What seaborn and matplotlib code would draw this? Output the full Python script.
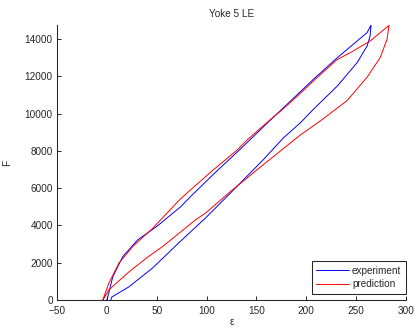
import pandas as pd
import matplotlib
matplotlib.use("Agg")
import matplotlib.pyplot as plt
import seaborn as sns

# === 数据 ===
# experiment：加载段 + 卸载段
exp_eps_up = [4, 5, 22, 46, 72, 99, 124, 157, 177, 194, 207, 231, 251, 261, 264, 265]
exp_F_up = [0, 160, 700, 1720, 3060, 4400, 5740, 7530, 8690, 9500, 10220, 11470, 12730, 13620, 14160, 14750]
exp_eps_down = [261, 251, 231, 207, 184, 164, 134, 107, 84, 74, 50, 31, 16, 6, 1, 0]
exp_F_down = [14340, 13890, 12990, 11830, 10660, 9650, 8100, 6750, 5550, 5000, 3940, 3230, 2330, 1250, 180, 0]

# prediction
pred_eps_up = [-4, 2, 22, 41, 56, 89, 99, 124, 157, 184, 194, 214, 241, 261, 274, 281, 283]
pred_F_up = [0, 540, 1500, 2300, 2870, 4300, 4660, 5820, 7260, 8420, 8850, 9600, 10700, 11950, 12990, 13980, 14730]
pred_eps_down = [264, 244, 231, 207, 191, 174, 164, 141, 131, 107, 84, 73, 54, 46, 26, 12, 2, -4]
pred_F_down = [13890, 13260, 12900, 11740, 10930, 10120, 9680, 8600, 8060, 6990, 5910, 5380, 4300, 3850, 2870, 1970, 900, 0]

x_ticks = [-50, 0, 50, 100, 150, 200, 250, 300]
y_ticks = [0, 2000, 4000, 6000, 8000, 10000, 12000, 14000]

exp_df = pd.DataFrame({"eps": exp_eps_up + exp_eps_down, "F": exp_F_up + exp_F_down})
pred_df = pd.DataFrame({"eps": pred_eps_up + pred_eps_down, "F": pred_F_up + pred_F_down})

sns.set_style("white")
plt.rcParams["font.family"] = ["Liberation Sans", "DejaVu Sans"]

fig = plt.figure(figsize=(4.15, 3.27), dpi=100)
ax = fig.add_axes([0.1373, 0.0826, 0.841, 0.841])

sns.lineplot(data=exp_df, x="eps", y="F", sort=False, estimator=None,
             color="#0000ff", linewidth=0.7, label="experiment", ax=ax)
sns.lineplot(data=pred_df, x="eps", y="F", sort=False, estimator=None,
             color="#ff0000", linewidth=0.7, label="prediction", ax=ax)

ax.set_xlim(-50, 300)
ax.set_ylim(0, max(exp_df["F"].max(), pred_df["F"].max()))
ax.set_xticks(x_ticks)
ax.set_yticks(y_ticks)

ax.spines["top"].set_visible(False)
ax.spines["right"].set_visible(False)
for s in ["left", "bottom"]:
    ax.spines[s].set_color("#262626")
    ax.spines[s].set_linewidth(0.75)
ax.tick_params(direction="in", length=3, width=0.7, labelsize=7.2, pad=3,
               colors="#262626", left=True, bottom=True)
ax.tick_params(axis="x", pad=4)

ax.set_title("Yoke 5 LE", fontsize=7.2, pad=6, color="#262626")
ax.set_xlabel("ε", fontsize=7.2, labelpad=1, color="#262626")
ax.set_ylabel("F", fontsize=7.2, labelpad=9, color="#262626")

leg = ax.legend(loc="lower right", bbox_to_anchor=(1.0, 0.022), borderaxespad=0,
                fontsize=7.2, frameon=True, fancybox=False, framealpha=1,
                edgecolor="#262626", handlelength=3.3, handletextpad=0.3,
                labelspacing=0.35, borderpad=0.45)
leg.get_frame().set_linewidth(0.75)

fig.savefig("out.png", dpi=100, facecolor="white")
